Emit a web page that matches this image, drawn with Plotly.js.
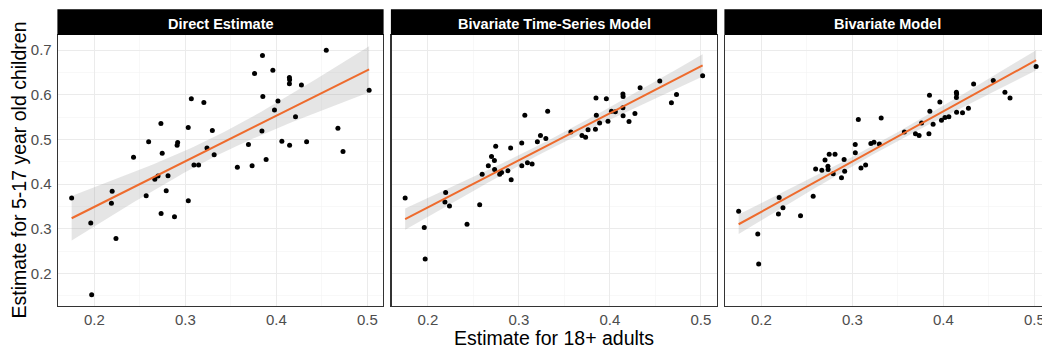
<!DOCTYPE html>
<html>
<head>
<meta charset="utf-8">
<script src="https://cdn.plot.ly/plotly-3.0.1.min.js"></script>
<style>
html, body { margin: 0; padding: 0; overflow: hidden; background: #fff; }
#chart { width: 1042px; height: 350px; }
</style>
</head>
<body>
<div id="chart"></div>
<script>
// Estimate for 18+ adults (shared x)
const adults = [0.175,0.196,0.197,0.2187,0.2195,0.2237,0.243,0.2569,0.2596,0.2664,0.2699,0.2731,0.2733,0.2745,0.2789,0.2809,0.288,0.2909,0.2915,0.3031,0.3032,0.3065,0.3094,0.3145,0.3203,0.3237,0.3296,0.3316,0.3571,0.3693,0.3733,0.376,0.3841,0.3847,0.3851,0.3887,0.3961,0.3979,0.4017,0.406,0.4143,0.4145,0.4143,0.4145,0.421,0.4275,0.4332,0.4548,0.4676,0.4732,0.5019];
// Estimate for 5-17 year old children, per model
const directEstimate = [0.369,0.313,0.152,0.357,0.384,0.278,0.460,0.374,0.495,0.411,0.418,0.536,0.334,0.469,0.385,0.419,0.327,0.487,0.493,0.527,0.363,0.591,0.443,0.443,0.583,0.481,0.520,0.466,0.438,0.489,0.441,0.648,0.519,0.688,0.596,0.455,0.655,0.566,0.586,0.496,0.639,0.634,0.625,0.487,0.551,0.622,0.495,0.700,0.525,0.473,0.610];
const bivariateTimeSeries = [0.369,0.303,0.232,0.360,0.381,0.351,0.310,0.354,0.422,0.441,0.462,0.453,0.433,0.485,0.422,0.426,0.430,0.481,0.410,0.492,0.441,0.554,0.448,0.445,0.495,0.509,0.502,0.563,0.517,0.509,0.505,0.522,0.523,0.593,0.554,0.537,0.591,0.541,0.563,0.562,0.602,0.596,0.571,0.553,0.540,0.558,0.616,0.631,0.582,0.601,0.643];
const bivariateModel = [0.339,0.288,0.221,0.333,0.370,0.347,0.329,0.373,0.434,0.431,0.454,0.440,0.433,0.467,0.423,0.467,0.414,0.455,0.429,0.489,0.470,0.545,0.436,0.443,0.491,0.494,0.490,0.548,0.517,0.513,0.509,0.537,0.513,0.599,0.563,0.534,0.584,0.543,0.549,0.551,0.606,0.602,0.594,0.561,0.560,0.570,0.624,0.632,0.606,0.593,0.6635];
const panelTitles = ["Direct Estimate", "Bivariate Time-Series Model", "Bivariate Model"];
const xTickVals = [0.2, 0.3, 0.4, 0.5];
const yTickVals = [0.2, 0.3, 0.4, 0.5, 0.6, 0.7];
const xTitle = "Estimate for 18+ adults";
const yTitle = "Estimate for 5-17 year old children";

const series = [directEstimate, bivariateTimeSeries, bivariateModel];

// layout geometry (pixels)
const W = 1042, H = 350, ML = 58, MT = 35, MB = 44;
const plotW = W - ML;
const plotH = H - MT - MB;
const panelW = 325, panelStep = 333.5;
const pxPerUnit = 910;
const x0 = 0.16;

function lmFit(x, y) {
  const n = x.length;
  const mx = x.reduce((a, b) => a + b, 0) / n;
  const my = y.reduce((a, b) => a + b, 0) / n;
  let sxx = 0, sxy = 0;
  for (let i = 0; i < n; i++) { sxx += (x[i] - mx) ** 2; sxy += (x[i] - mx) * (y[i] - my); }
  const b = sxy / sxx, a = my - b * mx;
  let sse = 0;
  for (let i = 0; i < n; i++) sse += (y[i] - a - b * x[i]) ** 2;
  const s = Math.sqrt(sse / (n - 2));
  return { a, b, s, n, mx, sxx };
}

const tcrit = 2.0096; // t(0.975, 49)
const font = "Liberation Sans, Arial, sans-serif";
const traces = [];
const layout = {
  width: W, height: H,
  margin: { l: ML, r: 0, t: MT, b: MB, pad: 0 },
  paper_bgcolor: "#ffffff", plot_bgcolor: "#ffffff",
  showlegend: false,
  font: { family: font, color: "#4d4d4d" },
  shapes: [], annotations: []
};

const xmin = Math.min(...adults), xmax = Math.max(...adults);

for (let p = 0; p < 3; p++) {
  const left = p * panelStep;
  const right = Math.min(left + panelW, plotW);
  const d0 = left / plotW, d1 = right / plotW;
  const xr = [x0, x0 + (right - left) / pxPerUnit];
  const sfx = p === 0 ? "" : String(p + 1);
  const y = series[p];
  const fit = lmFit(adults, y);
  const gx = [], lo = [], hi = [], fy = [];
  const N = 80;
  for (let i = 0; i <= N; i++) {
    const xv = xmin + (xmax - xmin) * i / N;
    const yv = fit.a + fit.b * xv;
    const se = fit.s * Math.sqrt(1 / fit.n + (xv - fit.mx) ** 2 / fit.sxx);
    gx.push(xv); fy.push(yv); lo.push(yv - tcrit * se); hi.push(yv + tcrit * se);
  }
  traces.push({
    type: "scatter", mode: "lines", xaxis: "x" + sfx, yaxis: "y" + sfx,
    x: gx.concat(gx.slice().reverse()), y: hi.concat(lo.slice().reverse()),
    fill: "toself", fillcolor: "rgba(153,153,153,0.25)", line: { width: 0 }, hoverinfo: "skip"
  });
  traces.push({
    type: "scatter", mode: "markers", xaxis: "x" + sfx, yaxis: "y" + sfx,
    x: adults, y: y, marker: { color: "#000000", size: 5 }
  });
  traces.push({
    type: "scatter", mode: "lines", xaxis: "x" + sfx, yaxis: "y" + sfx,
    x: gx, y: fy, line: { color: "#ee6b2d", width: 2 }
  });

  const lastPanel = p === 2;
  layout["xaxis" + sfx] = {
    domain: [d0, d1], range: xr, anchor: "y" + sfx,
    tickvals: xTickVals, ticktext: xTickVals.map(v => v.toFixed(1)),
    ticks: "", ticklabeloverflow: "allow",
    tickfont: { family: font, size: 15, color: "#4d4d4d" },
    showgrid: true, gridcolor: "#ebebeb", gridwidth: 1,
    minor: { tickvals: [0.15, 0.25, 0.35, 0.45, 0.55], showgrid: true, gridcolor: "#f3f3f3", gridwidth: 0.6, ticks: "" },
    zeroline: false, showline: true, linecolor: "#333333", linewidth: 1.3,
    mirror: lastPanel ? false : true, fixedrange: true
  };
  layout["yaxis" + sfx] = {
    domain: [0, 1], range: [0.127, 0.734], anchor: "x" + sfx,
    tickvals: yTickVals, ticktext: yTickVals.map(v => v.toFixed(1)),
    showticklabels: p === 0,
    ticks: "outside", ticklen: 2, tickcolor: "rgba(0,0,0,0)",
    tickfont: { family: font, size: 15, color: "#4d4d4d" },
    showgrid: true, gridcolor: "#ebebeb", gridwidth: 1,
    minor: { tickvals: [0.15, 0.25, 0.35, 0.45, 0.55, 0.65], showgrid: true, gridcolor: "#f3f3f3", gridwidth: 0.6, ticks: "" },
    zeroline: false, showline: true, linecolor: "#333333", linewidth: 1.3,
    mirror: lastPanel ? false : true, fixedrange: true
  };

  // strip
  layout.shapes.push({
    type: "rect", xref: "paper", yref: "paper",
    x0: d0 - 0.6 / plotW, x1: lastPanel ? 1.01 : d1 + 0.6 / plotW,
    y0: 1, y1: 1 + 25.7 / plotH,
    fillcolor: "#000000", line: { width: 0 }, layer: "above"
  });
  const centerPx = left + panelW / 2;
  layout.annotations.push({
    text: "<b>" + panelTitles[p] + "</b>", xref: "paper", yref: "paper",
    x: centerPx / plotW, y: 1 + (35 - 24.5) / plotH, xanchor: "center", yanchor: "middle",
    showarrow: false, font: { family: font, size: 14.5, color: "#ffffff" }
  });
}

// axis titles
layout.annotations.push({
  text: xTitle, xref: "paper", yref: "paper",
  x: (554 - ML) / plotW, y: (306 - 338) / plotH, xanchor: "center", yanchor: "middle",
  showarrow: false, font: { family: font, size: 19.5, color: "#000000" }
});
layout.annotations.push({
  text: yTitle, xref: "paper", yref: "paper", textangle: -90,
  x: (18 - ML) / plotW, y: 0.5, xanchor: "center", yanchor: "middle",
  showarrow: false, font: { family: font, size: 19.5, color: "#000000" }
});

Plotly.newPlot("chart", traces, layout, { displayModeBar: false, staticPlot: true });
</script>
</body>
</html>
